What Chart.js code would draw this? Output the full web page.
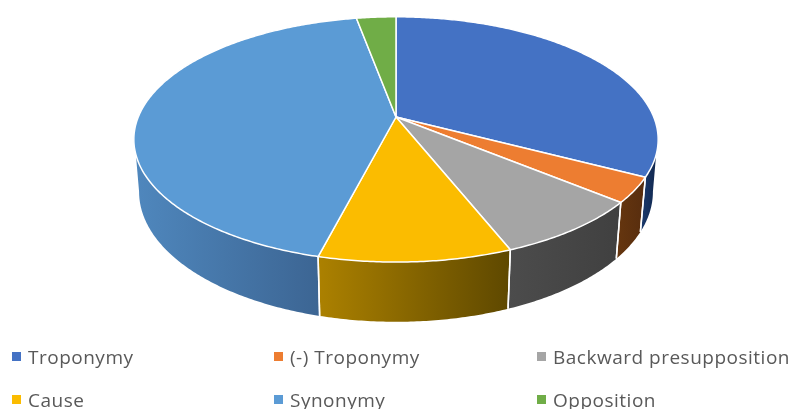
<!DOCTYPE html>
<html>
<head>
<meta charset="utf-8">
<script src="https://cdn.jsdelivr.net/npm/chart.js@4"></script>
<style>
html, body { margin: 0; background: #fff; overflow: hidden; }
#wrap { position: relative; width: 792px; height: 409px; overflow: hidden; }
#legend {
    position: absolute; left: 12px; top: 335px;
    display: grid; grid-template-columns: 262px 263px 243px; grid-auto-rows: 43px;
    font: 19px "Open Sans", sans-serif; letter-spacing: 0.5px; color: #595959;
}
#legend div { display: flex; align-items: center; white-space: nowrap; height: 43px; }
#legend i { width: 9px; height: 9px; margin-right: 7px; flex: none; }
</style>
</head>
<body>
<div id="wrap">
    <canvas id="pie" width="792" height="409"></canvas>
    <div id="legend"></div>
</div>
<script>
const labels = ["Troponymy", "(-) Troponymy", "Backward presupposition", "Cause", "Synonymy", "Opposition"];
const values = [32.7, 3.3, 8, 10, 43.1, 2.9];
const topColors = ["#4472C4", "#ED7D31", "#A5A5A5", "#FBBC00", "#5B9BD5", "#70AD47"];
const wallLeft = ["#1a3a6e", "#66360f", "#4c4c4c", "#ac8100", "#4f87bd", "#3a6b25"];
const wallRight = ["#12284f", "#572d0e", "#404040", "#5e4800", "#3c6593", "#3a6b25"];

// look of the tilted pie
const tilt = 0.183, scaleX = 2.217, scaleY = 1.0196;
const wallShrink = 0.98, wallStretch = 1.06, wallDrop = 51;
const topLimit = Math.asin(0.3), bottomLimit = Math.asin(tilt);

function project(arc, angle) {
    const s = Math.sin(angle), w = 1 - tilt * s, r = arc.outerRadius;
    return { x: r * scaleX * Math.cos(angle) / w, y: r * scaleY * s / w };
}

function lowerPoint(arc, p) {
    return { x: p.x * wallShrink, y: p.y * wallStretch + wallDrop };
}

function ringAngles(a1, a2) {
    const list = [], steps = Math.max(2, Math.ceil((a2 - a1) / 0.01));
    for (let i = 0; i <= steps; i++) list.push(a1 + (a2 - a1) * i / steps);
    return list;
}

const tiltedPie = {
    id: "tiltedPie",
    // the library lays out the arcs, this paints them in perspective
    beforeDatasetsDraw(chart) {
        const ctx = chart.ctx, arcs = chart.getDatasetMeta(0).data;
        const cx = arcs[0].x, cy = arcs[0].y;
        const border = chart.data.datasets[0].borderWidth;
        ctx.save();
        ctx.translate(cx, cy);
        ctx.lineJoin = "round";

        arcs.forEach((arc, i) => {
            const t1 = Math.max(arc.startAngle, topLimit), t2 = Math.min(arc.endAngle, Math.PI - topLimit);
            const b1 = Math.max(arc.startAngle, bottomLimit), b2 = Math.min(arc.endAngle, Math.PI - bottomLimit);
            if (b2 <= b1) return;
            const upper = t2 > t1 ? ringAngles(t1, t2).map(a => project(arc, a)) : [];
            const lower = ringAngles(b1, b2).map(a => lowerPoint(arc, project(arc, a)));
            const all = upper.concat(lower);
            const xs = all.map(p => p.x);
            const g = ctx.createLinearGradient(Math.min(...xs), 0, Math.max(...xs), 0);
            g.addColorStop(0, wallLeft[i]);
            g.addColorStop(1, wallRight[i]);
            ctx.beginPath();
            upper.forEach((p, n) => n ? ctx.lineTo(p.x, p.y) : ctx.moveTo(p.x, p.y));
            lower.reverse().forEach((p, n) => (n || upper.length) ? ctx.lineTo(p.x, p.y) : ctx.moveTo(p.x, p.y));
            ctx.closePath();
            ctx.fillStyle = g;
            ctx.fill();
        });

        // white seams between the walls
        arcs.forEach(arc => {
            [arc.startAngle, arc.endAngle].forEach(a => {
                const norm = a < 0 ? a + Math.PI * 2 : a;
                if (norm <= topLimit || norm >= Math.PI - topLimit) return;
                const p = project(arc, a), q = lowerPoint(arc, p);
                ctx.beginPath();
                ctx.moveTo(p.x, p.y);
                ctx.lineTo(q.x, q.y);
                ctx.strokeStyle = "#fff";
                ctx.lineWidth = border;
                ctx.stroke();
            });
        });

        // top faces
        arcs.forEach((arc, i) => {
            ctx.beginPath();
            ctx.moveTo(0, 0);
            ringAngles(arc.startAngle, arc.endAngle).forEach(a => {
                const p = project(arc, a);
                ctx.lineTo(p.x, p.y);
            });
            ctx.closePath();
            ctx.fillStyle = topColors[i];
            ctx.fill();
            ctx.strokeStyle = "#fff";
            ctx.lineWidth = border;
            ctx.stroke();
        });
        ctx.restore();
        return false;
    }
};

new Chart(document.getElementById("pie"), {
    type: "pie",
    data: {
        labels: labels,
        datasets: [{ data: values, backgroundColor: topColors, borderColor: "#fff", borderWidth: 1.5 }]
    },
    options: {
        responsive: false,
        animation: false,
        layout: { padding: { bottom: 175 } },
        plugins: { legend: { display: false }, tooltip: { enabled: false } }
    },
    plugins: [tiltedPie]
});

const legend = document.getElementById("legend");
labels.forEach((name, i) => {
    const item = document.createElement("div");
    const box = document.createElement("i");
    box.style.background = topColors[i];
    item.appendChild(box);
    item.appendChild(document.createTextNode(name));
    legend.appendChild(item);
});
</script>
</body>
</html>
